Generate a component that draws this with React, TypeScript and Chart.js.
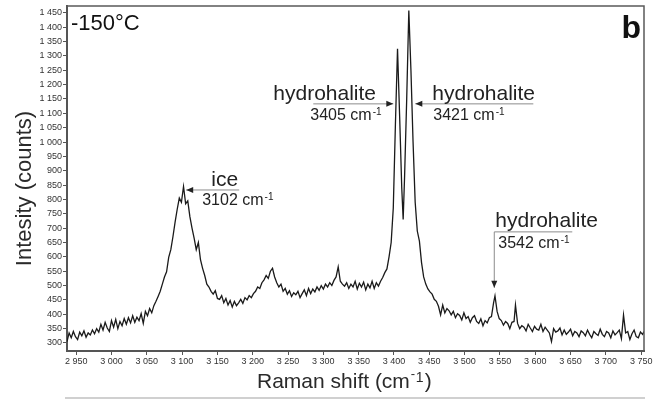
import React, { useEffect, useRef } from "react";
import { Chart, registerables } from "chart.js";

Chart.register(...registerables);

const FONT = "'Liberation Sans', Arial, sans-serif";

// Raman shift (cm-1)
const WAVENUMBERS: number[] = [
  2937, 2940, 2943, 2946, 2949, 2952, 2955, 2958, 2961, 2964, 2967, 2970, 2973, 2976, 2979, 2982, 2985, 2988, 2991, 2994,
  2997, 3000, 3003, 3006, 3009, 3012, 3015, 3018, 3021, 3024, 3027, 3030, 3033, 3036, 3039, 3042, 3045, 3048, 3051, 3054,
  3057, 3060, 3063, 3066, 3069, 3072, 3075, 3078, 3081, 3084, 3087, 3090, 3093, 3096, 3099, 3102, 3105, 3108, 3111, 3114,
  3117, 3120, 3123, 3126, 3129, 3132, 3135, 3138, 3141, 3144, 3147, 3150,
  3153, 3156, 3159, 3162, 3165, 3168, 3171, 3174, 3177, 3180, 3183, 3186, 3189, 3192, 3195, 3198, 3201, 3204, 3207, 3210,
  3213, 3216, 3219, 3222, 3225, 3228, 3231, 3234, 3237, 3240, 3243, 3246, 3249, 3252, 3255, 3258,
  3261, 3264, 3267, 3270, 3273, 3276, 3279, 3282, 3285, 3288, 3291, 3294, 3297, 3300, 3303, 3306, 3309, 3312, 3315, 3318,
  3321, 3324, 3327, 3330, 3333, 3336, 3339, 3342, 3345, 3348, 3351, 3354, 3357, 3360, 3363, 3366, 3369, 3372, 3375, 3378,
  3381, 3384, 3387, 3390,
  3393, 3396, 3399, 3402, 3405, 3408, 3411, 3413, 3415, 3418, 3421, 3424, 3427, 3430, 3433, 3436, 3439, 3442,
  3445, 3448, 3451, 3454, 3457, 3460, 3463, 3466, 3469, 3472, 3475, 3478, 3481, 3484, 3487, 3490, 3493, 3496, 3499, 3502,
  3505, 3508, 3511, 3514, 3517, 3520, 3523, 3526, 3529, 3532, 3535, 3538, 3541, 3543, 3546, 3549,
  3552, 3555, 3558, 3561, 3564, 3567, 3570, 3572, 3575, 3578, 3581, 3584, 3587, 3590, 3593, 3596, 3599, 3602, 3605, 3608,
  3611, 3614, 3617, 3620, 3623, 3626, 3629, 3632, 3635, 3638, 3641, 3644, 3647, 3650, 3653, 3656, 3659, 3662, 3665, 3668,
  3671, 3674, 3677, 3680, 3683, 3686, 3689, 3692, 3695, 3698, 3701, 3704, 3707, 3710, 3713, 3716, 3719, 3722, 3725, 3728,
  3731, 3734, 3737, 3740, 3743, 3746, 3749, 3752, 3754,
];

// Intensity (counts)
const COUNTS: number[] = [
  305, 335, 318, 340, 322, 312, 338, 325, 342, 320, 335, 328, 345, 332, 350, 338, 365, 345, 372, 352,
  340, 378, 355, 382, 350, 375, 360, 385, 365, 388, 370, 395, 372, 390, 378, 402, 368, 410, 395, 420,
  405, 430, 445, 462, 480, 505, 530, 548, 598, 625, 670, 720, 765, 805, 790, 845, 785, 795, 740, 700,
  665, 625, 650, 590, 560, 535, 505, 495, 480, 470, 482, 455,
  452, 465, 440, 455, 432, 448, 425, 445, 430, 440, 452, 438, 458, 450, 465, 458, 472, 480, 495, 490,
  510, 520, 535, 525, 550, 560, 530, 510, 495, 505, 480, 490, 470, 482, 462, 475,
  468, 480, 458, 472, 485, 465, 490, 472, 488, 478, 495, 483, 500, 488, 505, 495, 510, 500, 518, 530,
  565, 515, 505, 498, 510, 490, 505, 495, 515, 488, 508, 495, 512, 485, 505, 492, 515, 490, 510, 498,
  515, 528, 545, 558,
  600, 650, 770, 1060, 1325, 1090, 840, 730, 880, 1150, 1458, 1250, 1000, 790, 690, 655, 580, 530,
  505, 488, 478, 470, 452, 445, 428, 398, 432, 405, 420, 412, 398, 410, 388, 402, 396, 380, 405, 385,
  392, 372, 388, 395, 375, 368, 384, 360, 378, 370, 388, 392, 440, 464, 410, 385,
  378, 362, 375, 368, 350, 372, 375, 432, 368, 350, 360, 355, 342, 365, 352, 340, 358, 348, 345, 365,
  340, 355, 345, 335, 305, 350, 338, 342, 352, 328, 345, 330, 338, 348, 325, 340, 335, 322, 342, 336,
  325, 345, 330, 318, 340, 332, 326, 348, 330, 322, 340, 335, 318, 342, 328, 336, 345, 315, 397, 335,
  340, 312, 332, 345, 322, 318, 338, 330, 340,
];

const X_TICKS = [2950, 3000, 3050, 3100, 3150, 3200, 3250, 3300, 3350, 3400, 3450, 3500, 3550, 3600, 3650, 3700, 3750];
const Y_TICKS = [
  300, 350, 400, 450, 500, 550, 600, 650, 700, 750, 800, 850, 900, 950, 1000, 1050, 1100, 1150, 1200, 1250, 1300, 1350,
  1400, 1450,
];
const X_MIN = 2937;
const X_MAX = 3754;
const Y_MIN = 272;
const Y_MAX = 1474;

const X_TITLE = "Raman shift (cm";
const Y_TITLE = "Intesity (counts)";
const TEMP_LABEL = "-150°C";
const PANEL_LABEL = "b";
const PEAK_NAMES = ["ice", "hydrohalite", "hydrohalite", "hydrohalite"];
const PEAK_SHIFTS = ["3102", "3405", "3421", "3542"];

const fmt = (v: number) => (v >= 1000 ? `${Math.floor(v / 1000)} ${String(v % 1000).padStart(3, "0")}` : String(v));

function drawArrow(ctx: CanvasRenderingContext2D, x1: number, y1: number, x2: number, y2: number) {
  ctx.strokeStyle = "#8c8c8c";
  ctx.lineWidth = 1;
  ctx.beginPath();
  ctx.moveTo(x1, y1);
  ctx.lineTo(x2, y2);
  ctx.stroke();
  const ang = Math.atan2(y2 - y1, x2 - x1);
  const L = 7;
  const W = 3;
  ctx.fillStyle = "#222";
  ctx.beginPath();
  ctx.moveTo(x2, y2);
  ctx.lineTo(x2 - L * Math.cos(ang) + W * Math.sin(ang), y2 - L * Math.sin(ang) - W * Math.cos(ang));
  ctx.lineTo(x2 - L * Math.cos(ang) - W * Math.sin(ang), y2 - L * Math.sin(ang) + W * Math.cos(ang));
  ctx.closePath();
  ctx.fill();
}

function drawShift(ctx: CanvasRenderingContext2D, text: string, x: number, y: number) {
  ctx.fillStyle = "#222";
  ctx.textAlign = "left";
  ctx.textBaseline = "alphabetic";
  ctx.font = `16px ${FONT}`;
  const base = `${text} cm`;
  ctx.fillText(base, x, y);
  const w = ctx.measureText(base).width;
  ctx.font = `10px ${FONT}`;
  ctx.fillText("-1", x + w + 1, y - 5);
}

function drawName(ctx: CanvasRenderingContext2D, text: string, x: number, y: number) {
  ctx.fillStyle = "#222";
  ctx.textAlign = "left";
  ctx.textBaseline = "alphabetic";
  ctx.font = `21px ${FONT}`;
  ctx.fillText(text, x, y);
}

const decorPlugin = {
  id: "decor",
  afterDraw(chart: any) {
    const { ctx, chartArea: a, scales } = chart;
    const xs = scales.x;
    const ys = scales.y;
    const px = (v: number) => xs.getPixelForValue(v);
    const py = (v: number) => ys.getPixelForValue(v);
    ctx.save();

    // top & right frame
    ctx.strokeStyle = "#5a5a5a";
    ctx.lineWidth = 1.5;
    ctx.beginPath();
    ctx.moveTo(a.left, a.top);
    ctx.lineTo(a.right, a.top);
    ctx.lineTo(a.right, a.bottom);
    ctx.stroke();

    // bottom separator line
    ctx.strokeStyle = "#d0d0d0";
    ctx.lineWidth = 2;
    ctx.beginPath();
    ctx.moveTo(a.left - 2, 398);
    ctx.lineTo(a.right + 1, 398);
    ctx.stroke();

    // axis titles
    ctx.fillStyle = "#2a2a2a";
    ctx.font = `22px ${FONT}`;
    ctx.textAlign = "center";
    ctx.textBaseline = "middle";
    ctx.save();
    ctx.translate(25, (a.top + a.bottom) / 2 + 10);
    ctx.rotate(-Math.PI / 2);
    ctx.fillText(Y_TITLE, 0, 0);
    ctx.restore();

    ctx.font = `21px ${FONT}`;
    ctx.textAlign = "left";
    ctx.textBaseline = "alphabetic";
    const tx = 257;
    const ty = 388;
    ctx.fillText(X_TITLE, tx, ty);
    const tw = ctx.measureText(X_TITLE).width;
    ctx.font = `13px ${FONT}`;
    ctx.fillText("-", tx + tw + 1, ty - 10);
    ctx.font = `14px ${FONT}`;
    ctx.fillText("1", tx + tw + 6, ty - 6);
    ctx.font = `21px ${FONT}`;
    ctx.fillText(")", tx + tw + 15, ty);

    // corner labels
    ctx.fillStyle = "#111";
    ctx.font = `22px ${FONT}`;
    ctx.fillText(TEMP_LABEL, a.left + 4, a.top + 24);
    ctx.font = `bold 32px ${FONT}`;
    ctx.textAlign = "right";
    ctx.fillText(PANEL_LABEL, a.right - 3, a.top + 32);

    // ice
    let tX = px(3105.8);
    let tY = py(833);
    drawArrow(ctx, tX + 53, tY, tX, tY);
    drawName(ctx, PEAK_NAMES[0], tX + 25, tY - 4);
    drawShift(ctx, PEAK_SHIFTS[0], tX + 16, tY + 15);

    // hydrohalite 3405
    tX = px(3399);
    tY = py(1133);
    drawArrow(ctx, tX - 80, tY, tX, tY);
    drawName(ctx, PEAK_NAMES[1], tX - 120, tY - 4);
    drawShift(ctx, PEAK_SHIFTS[1], tX - 83, tY + 16);

    // hydrohalite 3421
    tX = px(3430.2);
    tY = py(1133);
    drawArrow(ctx, tX + 118, tY, tX, tY);
    drawName(ctx, PEAK_NAMES[2], tX + 17, tY - 4);
    drawShift(ctx, PEAK_SHIFTS[2], tX + 18, tY + 16);

    // hydrohalite 3542
    tX = px(3542);
    tY = py(492);
    const cY = py(687);
    ctx.strokeStyle = "#8c8c8c";
    ctx.lineWidth = 1;
    ctx.beginPath();
    ctx.moveTo(tX + 78, cY);
    ctx.lineTo(tX, cY);
    ctx.stroke();
    drawArrow(ctx, tX, cY, tX, tY);
    drawName(ctx, PEAK_NAMES[3], tX + 1, cY - 5);
    drawShift(ctx, PEAK_SHIFTS[3], tX + 4, cY + 16);

    ctx.restore();
  },
};

export default function App() {
  const ref = useRef<HTMLCanvasElement | null>(null);
  useEffect(() => {
    document.body.style.margin = "0";
    const canvas = ref.current;
    if (!canvas) return;
    const chart = new Chart(canvas, {
      type: "line",
      data: {
        datasets: [
          {
            data: WAVENUMBERS.map((w, i) => ({ x: w, y: COUNTS[i] })),
            borderColor: "#1a1a1a",
            borderWidth: 1.3,
            pointRadius: 0,
            tension: 0,
            fill: false,
          },
        ],
      },
      options: {
        animation: false,
        responsive: false,
        devicePixelRatio: 1,
        layout: { padding: { left: 0, right: 9, top: 6, bottom: 0 } },
        plugins: { legend: { display: false }, tooltip: { enabled: false } },
        scales: {
          x: {
            type: "linear",
            min: X_MIN,
            max: X_MAX,
            afterBuildTicks: (s: any) => {
              s.ticks = X_TICKS.map((v) => ({ value: v }));
            },
            afterFit: (s: any) => {
              s.height = 49;
              s.paddingLeft = 0;
              s.paddingRight = 0;
            },
            grid: { display: true, drawOnChartArea: false, drawTicks: true, tickLength: 4, color: "#555", tickWidth: 1 },
            border: { display: true, color: "#555", width: 2 },
            ticks: {
              autoSkip: false,
              maxRotation: 0,
              padding: 1,
              color: "#333",
              font: { family: FONT, size: 9 },
              callback: (v: any) => fmt(Number(v)),
            },
          },
          y: {
            type: "linear",
            min: Y_MIN,
            max: Y_MAX,
            afterBuildTicks: (s: any) => {
              s.ticks = Y_TICKS.map((v) => ({ value: v }));
            },
            afterFit: (s: any) => {
              s.width = 67;
              s.paddingTop = 0;
              s.paddingBottom = 0;
            },
            grid: { display: true, drawOnChartArea: false, drawTicks: true, tickLength: 4, color: "#555", tickWidth: 1 },
            border: { display: true, color: "#555", width: 2 },
            ticks: {
              autoSkip: false,
              padding: 1,
              color: "#333",
              font: { family: FONT, size: 9 },
              callback: (v: any) => fmt(Number(v)),
            },
          },
        },
      },
      plugins: [decorPlugin],
    });
    return () => chart.destroy();
  }, []);
  return (
    <div style={{ width: 653, height: 400, position: "relative" }}>
      <canvas ref={ref} width={653} height={400} style={{ display: "block", width: 653, height: 400 }} />
    </div>
  );
}
